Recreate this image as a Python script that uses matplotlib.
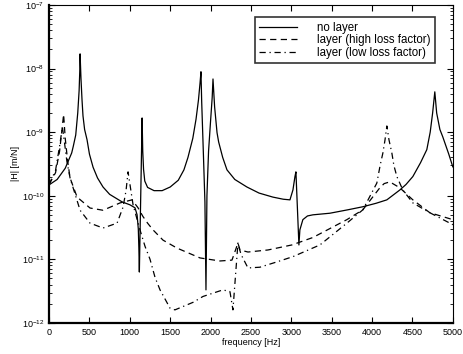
import matplotlib
matplotlib.use("Agg")
import matplotlib.pyplot as plt
from matplotlib.ticker import LogLocator, MultipleLocator, NullFormatter

plt.rcParams["font.family"] = ["Liberation Sans", "DejaVu Sans"]

# no layer (solid)
nolayer_f = [0, 100, 200, 280, 300, 330, 355, 372, 380, 384, 395, 408, 420, 440,
             470, 500, 545, 600, 668, 750, 903, 1000, 1064, 1090, 1105, 1112,
             1118, 1145, 1152, 1160, 1170, 1185, 1220, 1300, 1400, 1500, 1600,
             1670, 1720, 1780, 1820, 1850, 1870, 1881, 1890, 1910, 1930, 1943,
             1955, 1975, 2000, 2020, 2030, 2050, 2080, 2100, 2150, 2203, 2300,
             2450, 2600, 2772, 2900, 2983, 3020, 3045, 3057, 3094, 3106, 3143,
             3200, 3267, 3478, 3700, 3886, 4050, 4183, 4344, 4420, 4505, 4600,
             4678, 4720, 4750, 4777, 4800, 4840, 4876, 4950, 5000]
nolayer_h = [1.48e-10, 1.8e-10, 2.7e-10, 4.7e-10, 6e-10, 9e-10, 2e-9, 4.5e-9,
             9e-9, 1.7e-8, 7e-9, 3.2e-9, 1.8e-9, 1.1e-9,
             7.6e-10, 4.5e-10, 2.8e-10, 1.9e-10, 1.37e-10, 1.05e-10, 8e-11,
             7.2e-11, 6.45e-11, 5e-11, 3e-11, 1.5e-11,
             6.3e-12, 5e-10, 1.67e-9, 5e-10, 2.6e-10, 1.7e-10, 1.35e-10,
             1.2e-10, 1.2e-10, 1.37e-10, 1.75e-10,
             2.55e-10, 4e-10, 8e-10, 1.6e-9, 3.2e-9, 6e-9, 8.9e-9, 3e-9, 5e-10,
             8e-11, 3.3e-12,
             1e-10, 5e-10, 1.5e-9, 3.5e-9, 6.85e-9, 2.5e-9, 9.8e-10, 7e-10,
             4e-10, 2.55e-10, 1.8e-10,
             1.37e-10, 1.1e-10, 9.5e-11, 8.8e-11, 8.6e-11, 1.23e-10, 2e-10,
             2.37e-10, 1.68e-11, 2.9e-11, 4.2e-11,
             4.8e-11, 5e-11, 5.3e-11, 6e-11, 6.7e-11, 7.6e-11, 8.6e-11, 1.23e-10,
             1.5e-10, 2e-10, 3.3e-10,
             5.3e-10, 1e-9, 2e-9, 4.3e-9, 2e-9, 1.1e-9, 8.4e-10, 4.5e-10, 2.84e-10]

# layer, high loss factor (dashed)
high_f = [0, 80, 130, 160, 180, 200, 230, 260, 347, 507, 668, 879, 1027, 1100,
          1163, 1220, 1287, 1411, 1584, 1869, 2116, 2265, 2339, 2364, 2463,
          2710, 3007, 3267, 3688, 3886, 4096, 4150, 4220, 4344, 4505, 4715, 5000]
high_h = [1.5e-10, 2.3e-10, 5e-10, 1.1e-9, 1.9e-9, 8e-10, 3.5e-10, 1.9e-10,
          9.5e-11, 6.4e-11, 5.9e-11, 7.7e-11, 8.6e-11, 6.5e-11,
          4.7e-11, 3.7e-11, 2.9e-11, 2e-11, 1.5e-11, 1.05e-11, 9.4e-12, 9.7e-12,
          1.8e-11, 1.4e-11, 1.3e-11,
          1.4e-11, 1.68e-11, 2.2e-11, 4.2e-11, 6e-11, 1.33e-10, 1.55e-10,
          1.65e-10, 1.33e-10, 8.6e-11, 5.4e-11, 4.2e-11]

# layer, low loss factor (dash-dot)
low_f = [0, 80, 130, 165, 190, 220, 260, 384, 507, 668, 842, 916, 953, 978,
         1040, 1126, 1188, 1250, 1312, 1374, 1450, 1498, 1559, 1782, 1906,
         2153, 2240, 2277, 2339, 2376, 2463, 2611, 2822, 3020, 3354, 3688,
         3886, 4059, 4100, 4134, 4160, 4183, 4210, 4245, 4270, 4307, 4381,
         4505, 4715, 5000]
low_h = [1.5e-10, 2.5e-10, 6e-10, 1.2e-9, 7e-10, 3.5e-10, 1.9e-10, 5.9e-11,
         3.7e-11, 3.1e-11, 3.7e-11, 6.6e-11, 1.2e-10, 2.37e-10,
         7.2e-11, 2.9e-11, 1.6e-11, 1e-11, 5.2e-12, 3.3e-12, 2.2e-12, 1.7e-12,
         1.6e-12, 2.1e-12, 2.6e-12,
         3.3e-12, 3.1e-12, 1.6e-12, 1.8e-11, 1.2e-11, 7.3e-12, 7.5e-12,
         9.1e-12, 1.1e-11, 1.68e-11, 3.7e-11,
         6e-11, 1.58e-10, 3e-10, 4.7e-10, 7.5e-10, 1.25e-9, 7.5e-10, 4.7e-10,
         3e-10, 2e-10, 1.23e-10,
         7.7e-11, 5.4e-11, 3.5e-11]

fig = plt.figure(figsize=(4.63, 3.54), dpi=100)
ax = fig.add_axes([0.106, 0.088, 0.872, 0.898])

ax.semilogy(nolayer_f, nolayer_h, color="black", lw=0.9, ls="-", label="no layer")
ax.semilogy(high_f, high_h, color="black", lw=0.9, ls=(0, (5, 3.5)),
            label="layer (high loss factor)")
ax.semilogy(low_f, low_h, color="black", lw=0.9, ls=(0, (5, 3, 1, 3)),
            label="layer (low loss factor)")

ax.set_xlim(0, 5000)
ax.set_ylim(1e-12, 1e-7)
ax.xaxis.set_major_locator(MultipleLocator(500))
ax.yaxis.set_major_locator(LogLocator(base=10, numticks=10))
ax.yaxis.set_minor_locator(LogLocator(base=10, subs=range(2, 10), numticks=20))
ax.yaxis.set_minor_formatter(NullFormatter())
ax.tick_params(which="both", direction="in", top=True, right=True, labelsize=6.5)
ax.tick_params(which="major", length=4)
ax.tick_params(which="minor", length=2)
for side in ["left", "bottom"]:
    ax.spines[side].set_linewidth(1.6)
for side in ["top", "right"]:
    ax.spines[side].set_linewidth(0.8)

ax.set_xlabel("frequency [Hz]", fontsize=6.5, labelpad=1)
ax.set_ylabel("|H| [m/N]", fontsize=6.5, labelpad=1)

leg = ax.legend(loc="upper right", bbox_to_anchor=(0.956, 0.962), fontsize=8.3,
                frameon=True, fancybox=False, edgecolor="black",
                handlelength=3.3, handletextpad=1.7, borderpad=0.4,
                labelspacing=0.05, borderaxespad=0)
leg.get_frame().set_linewidth(1.2)

fig.savefig("out.png", dpi=100)
